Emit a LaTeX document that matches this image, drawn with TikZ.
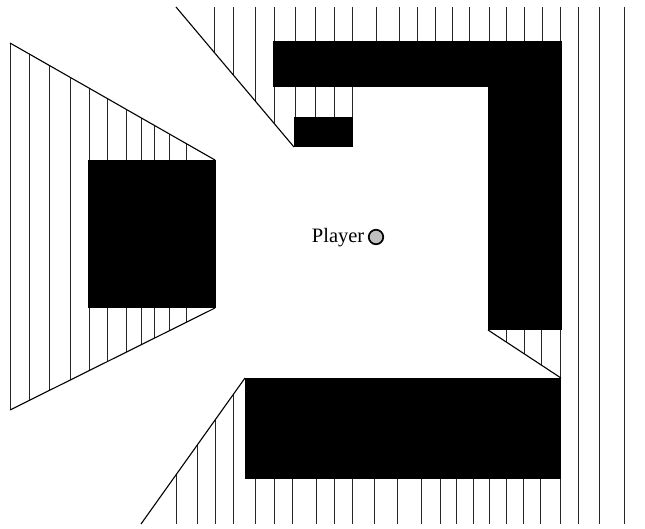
\documentclass[tikz,border=0pt]{standalone}
\usepackage{fontspec}
\newfontfamily\labelfont{Liberation Serif}
\begin{document}
\begin{tikzpicture}[x=1pt,y=-1pt,
  hatch/.style={line width=0.9pt,black!85},
  edge/.style={line width=1.1pt,black},
  wall/.style={fill=black},
  playerdot/.style={circle,draw=black,line width=1.7pt,fill=black!25,minimum size=14.5pt,inner sep=0pt}]
\useasboundingbox (0,0) rectangle (645,528);
% left shadow
\foreach \x in {10,29,49,70.5,89,107,126,141,154,169,186}{
  \pgfmathsetmacro\ya{43+(\x-10)/205*117}
  \pgfmathsetmacro\yb{410-(\x-10)/205*102}
  \draw[hatch] (\x,\ya) -- (\x,\yb);
}
\coordinate (lt) at (10,43); \coordinate (lb) at (10,410);
\coordinate (rt) at (215,160); \coordinate (rb) at (215,308);
\draw[edge] (lt) -- (rt);
\draw[edge] (lb) -- (rb);
% top shadow
\foreach \x in {214,233,255,274}{
  \pgfmathsetmacro\yb{7+(\x-176)/118*140}
  \draw[hatch] (\x,7) -- (\x,\yb);
}
\foreach \x in {295,315,334,352}{\draw[hatch] (\x,7) -- (\x,117);}
\foreach \x in {376,399,417,435,452,469,489,506,524,542}{\draw[hatch] (\x,7) -- (\x,41);}
\foreach \x in {560,578,599,624}{\draw[hatch] (\x,7) -- (\x,524);}
\coordinate (ds) at (176,7); \coordinate (de) at (294,147);
\draw[edge] (ds) -- (de);
% triangle shadow
\foreach \x in {506,524.5,541}{
  \pgfmathsetmacro\ya{330+(\x-488)/73*48}
  \draw[hatch] (\x,\ya) -- (\x,330);
}
\coordinate (ts) at (488,330); \coordinate (te) at (561,378);
\draw[edge] (ts) -- (te);
% bottom shadow
\foreach \x in {176,197,215,233}{
  \pgfmathsetmacro\ya{524-(\x-141)/104*146}
  \draw[hatch] (\x,\ya) -- (\x,524);
}
\foreach \x in {255,274,292,316,334,352,374,397,421,440,456,473,489,506,523,540}{\draw[hatch] (\x,479) -- (\x,524);}
\coordinate (bs) at (245,378); \coordinate (be) at (141,524);
\draw[edge] (bs) -- (be);
% walls
\fill[wall] (88,160) rectangle (216,308);
\fill[wall] (273,41) rectangle (562,87);
\fill[wall] (488,41) rectangle (562,330);
\fill[wall] (294,117) rectangle (353,147);
\fill[wall] (245,378) rectangle (561,479);
% player
\node[playerdot] (player) at (376,237) {};
\node[anchor=base east,font=\labelfont\fontsize{20.5}{22}\selectfont,inner sep=0pt] (plabel) at (364.5,242) {Player};
\end{tikzpicture}
\end{document}
